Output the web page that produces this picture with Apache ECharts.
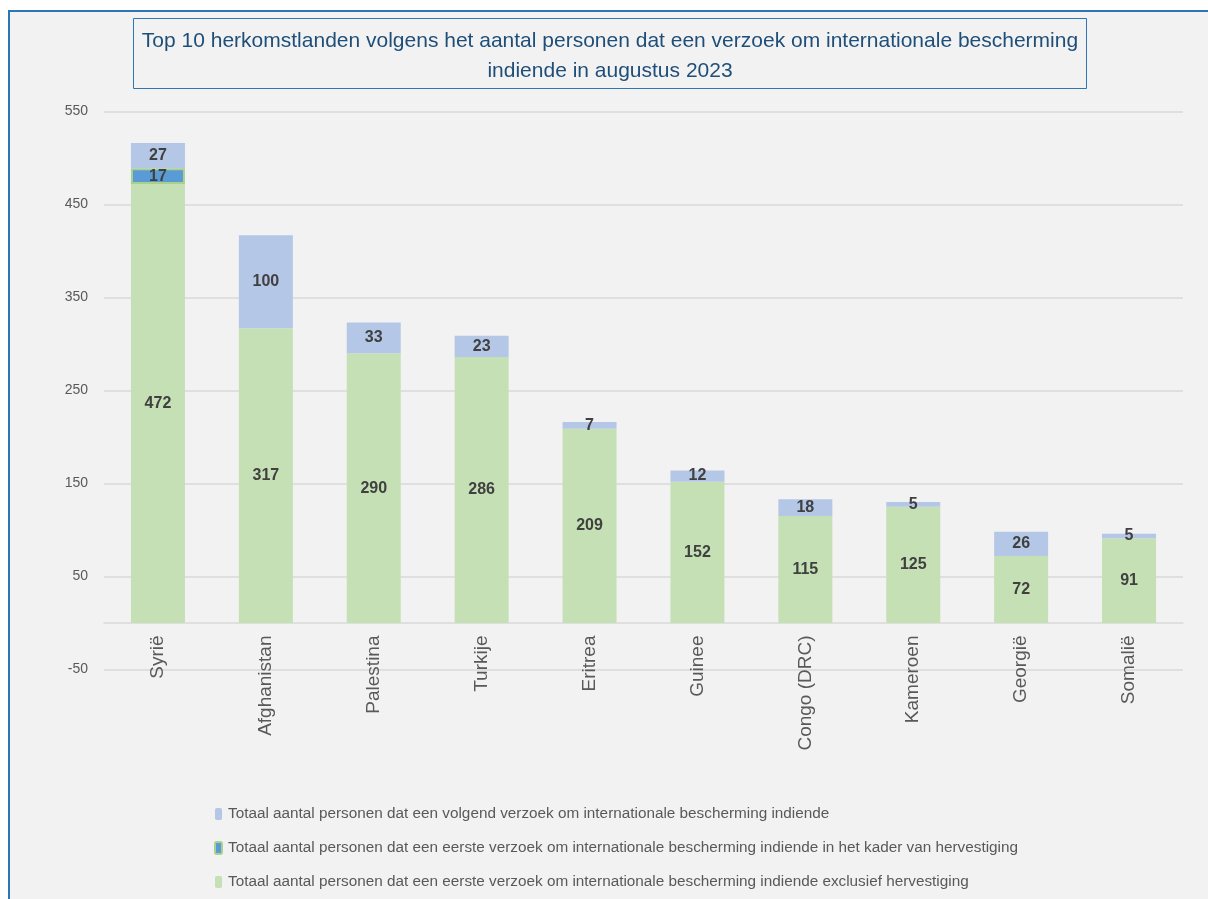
<!DOCTYPE html>
<html>
<head>
<meta charset="utf-8">
<script src="https://cdn.jsdelivr.net/npm/echarts@6/dist/echarts.min.js"></script>
<style>
  html, body { margin: 0; padding: 0; background: #ffffff; }
  .panel {
    position: absolute; left: 8px; top: 10px; width: 1200px; height: 889px;
    background: #f2f2f2; border-left: 2px solid #2e75b6; border-top: 2px solid #2e75b6;
    box-sizing: border-box;
  }
  #main { position: absolute; left: 0; top: 0; width: 1208px; height: 899px; }
</style>
</head>
<body>
<div class="panel"></div>
<div id="main"></div>
<script>
const landen = ['Syrië', 'Afghanistan', 'Palestina', 'Turkije', 'Eritrea', 'Guinee', 'Congo (DRC)', 'Kameroen', 'Georgië', 'Somalië']
const exclHervestiging = [472, 317, 290, 286, 209, 152, 115, 125, 72, 91]
const hervestiging = [17, null, null, null, null, null, null, null, null, null]
const volgend = [27, 100, 33, 23, 7, 12, 18, 5, 26, 5]
const yTicks = { min: -50, max: 550, interval: 100 }

const fam = 'Liberation Sans'
const myChart = echarts.init(document.getElementById('main'))

const labelStyle = {
  show: true,
  position: 'inside',
  color: '#404040',
  fontWeight: 'bold',
  fontSize: 16,
  fontFamily: fam,
  formatter: p => (p.value == null ? '' : p.value)
}

let option = {
  backgroundColor: 'transparent',
  animation: false,
  title: {
    text: 'Top 10 herkomstlanden volgens het aantal personen dat een verzoek om internationale bescherming\nindiende in augustus 2023',
    left: 601,
    textAlign: 'center',
    top: 18,
    padding: [8, 9, 3, 9],
    borderColor: '#2e75b6',
    borderWidth: 1,
    textStyle: {
      color: '#1f4e79',
      fontSize: 21,
      fontWeight: 'normal',
      fontFamily: fam,
      lineHeight: 30
    }
  },
  color: ['#c5e0b4', '#5b9bd5', '#b4c7e7'],
  grid: {
    left: 104,
    right: 25,
    top: 111.5,
    bottom: 229.5
  },
  legend: {
    orient: 'vertical',
    left: 209,
    top: 801,
    itemWidth: 7,
    itemHeight: 12,
    itemGap: 18,
    data: [
      'Totaal aantal personen dat een volgend verzoek om internationale bescherming indiende',
      'Totaal aantal personen dat een eerste verzoek om internationale bescherming indiende in het kader van hervestiging',
      'Totaal aantal personen dat een eerste verzoek om internationale bescherming indiende exclusief hervestiging'
    ],
    textStyle: {
      color: '#595959',
      fontSize: 15.3,
      lineHeight: 16,
      fontFamily: fam,
      padding: [0, 0, 0, 1]
    }
  },
  xAxis: {
    type: 'category',
    data: landen,
    axisTick: { show: false },
    axisLine: {
      onZero: true,
      lineStyle: { color: '#d9d9d9', width: 1.5 }
    },
    axisLabel: {
      rotate: 90,
      color: '#595959',
      fontSize: 19,
      fontFamily: fam,
      margin: -34
    }
  },
  yAxis: {
    type: 'value',
    min: yTicks.min,
    max: yTicks.max,
    interval: yTicks.interval,
    axisLine: { show: false },
    axisTick: { show: false },
    axisLabel: {
      color: '#595959',
      fontSize: 14,
      fontFamily: fam,
      margin: 16
    },
    splitLine: {
      show: true,
      lineStyle: { color: '#d9d9d9', width: 1.5 }
    }
  },
  series: [
    {
      name: 'Totaal aantal personen dat een eerste verzoek om internationale bescherming indiende exclusief hervestiging',
      type: 'bar',
      stack: 'totaal',
      barWidth: 54,
      label: labelStyle,
      data: exclHervestiging
    },
    {
      name: 'Totaal aantal personen dat een eerste verzoek om internationale bescherming indiende in het kader van hervestiging',
      type: 'bar',
      stack: 'totaal',
      barWidth: 54,
      itemStyle: { borderColor: '#a9d18e', borderWidth: 2 },
      label: labelStyle,
      data: hervestiging
    },
    {
      name: 'Totaal aantal personen dat een volgend verzoek om internationale bescherming indiende',
      type: 'bar',
      stack: 'totaal',
      barWidth: 54,
      label: labelStyle,
      data: volgend
    }
  ]
}
myChart.setOption(option)
</script>
</body>
</html>
